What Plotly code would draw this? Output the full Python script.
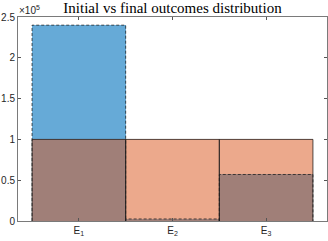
import plotly.graph_objects as go

categories = ["E<sub>1</sub>", "E<sub>2</sub>", "E<sub>3</sub>"]
cat_pos = [1, 2, 3]
initial_counts = [240000, 2500, 57000]
final_counts = [100000, 100000, 100000]
ytick_vals = [0, 50000, 100000, 150000, 200000, 250000]
ytick_text = ["0", "0.5", "1", "1.5", "2", "2.5"]

blue_fill = "rgba(0,114,189,0.6)"
orange_fill = "rgba(217,83,25,0.5)"
edge = "rgba(30,30,30,0.75)"


def outline(xs, vals):
    px, py = [], []
    for x, v in zip(xs, vals):
        px += [x - 0.5, x - 0.5, x + 0.5, x + 0.5, None]
        py += [0, v, v, 0, None]
    return px, py


fig = go.Figure()
fig.add_trace(go.Bar(x=cat_pos, y=initial_counts, width=1, marker=dict(color=blue_fill, line=dict(width=0)),
                     showlegend=False, hoverinfo="skip"))
bx, by = outline(cat_pos, initial_counts)
fig.add_trace(go.Scatter(x=bx, y=by, mode="lines", line=dict(color=edge, width=1, dash="3px,2px"),
                         showlegend=False, hoverinfo="skip"))
fig.add_trace(go.Bar(x=cat_pos, y=final_counts, width=1, marker=dict(color=orange_fill, line=dict(width=0)),
                     showlegend=False, hoverinfo="skip"))
ox, oy = outline(cat_pos, final_counts)
fig.add_trace(go.Scatter(x=ox, y=oy, mode="lines", line=dict(color=edge, width=1),
                         showlegend=False, hoverinfo="skip"))

axis_common = dict(showline=True, linecolor="#7a7a7a", linewidth=1, mirror="ticks", ticks="inside",
                   ticklen=3, tickcolor="#555555", showgrid=False, zeroline=False,
                   tickfont=dict(family="Liberation Sans, Arial, sans-serif", size=10, color="#262626"))

fig.update_layout(
    width=328, height=241,
    margin=dict(l=18, r=1, t=17, b=20),
    paper_bgcolor="white", plot_bgcolor="white",
    barmode="overlay", bargap=0,
    title=dict(text="Initial vs final outcomes distribution", x=0.526, xanchor="center", y=0.968, yanchor="middle",
               font=dict(family="Liberation Serif, DejaVu Serif, serif", size=15, color="#000000")),
    xaxis=dict(range=[0.35, 3.65], tickvals=cat_pos, ticktext=categories, **axis_common),
    yaxis=dict(range=[0, 250000], tickvals=ytick_vals, ticktext=ytick_text, **axis_common),
)
fig.add_annotation(text="×10<sup>5</sup>", xref="paper", yref="paper", x=0, y=1, xanchor="left", yanchor="bottom",
                   showarrow=False, yshift=-1, xshift=-1,
                   font=dict(family="Liberation Sans, Arial, sans-serif", size=10, color="#262626"))

fig.write_html("out.html", config={"displayModeBar": False},
               post_script="document.body.style.margin='0';document.body.style.overflow='hidden';")
